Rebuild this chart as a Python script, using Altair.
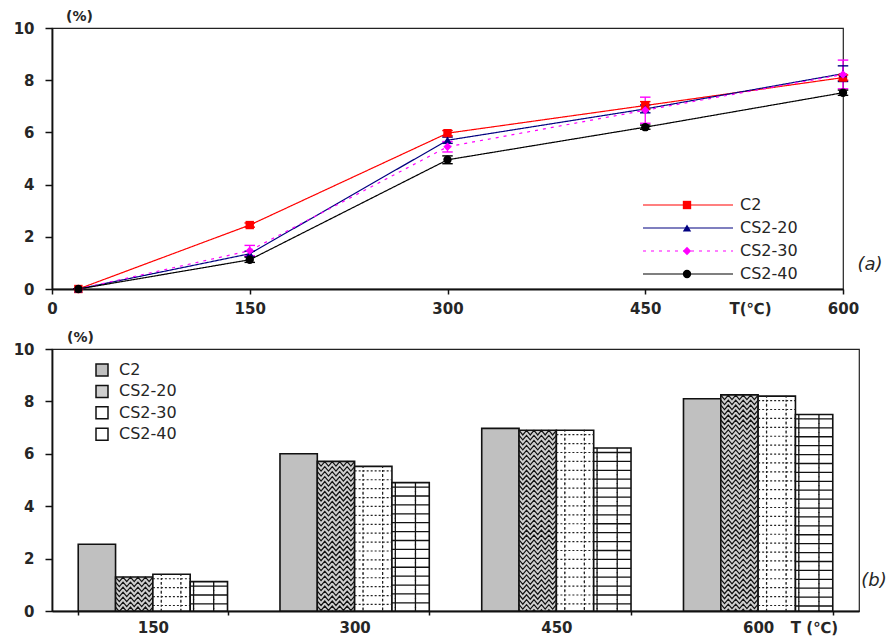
import altair as alt
import pandas as pd

FONT = "DejaVu Sans"
TXT = "#262626"

# ---------------- data ----------------
series = ["C2", "CS2-20", "CS2-30", "CS2-40"]
colors = ["#ff0000", "#000080", "#ff00ff", "#000000"]
shapes = ["square", "triangle-up", "diamond", "circle"]

temps = [20, 150, 300, 450, 600]
c2 = [0.0, 2.45, 5.97, 7.03, 8.10]
cs20 = [0.0, 1.35, 5.70, 6.90, 8.25]
cs30 = [0.0, 1.47, 5.45, 6.85, 8.22]
cs40 = [0.0, 1.12, 4.95, 6.20, 7.52]
c2_err = [0.0, 0.08, 0.10, 0.15, 0.10]
cs20_err = [0.0, 0.10, 0.12, 0.15, 0.30]
cs30_err = [0.0, 0.20, 0.20, 0.50, 0.55]
cs40_err = [0.0, 0.10, 0.15, 0.08, 0.10]

bar_temps = ["150", "300", "450", "600"]
bar_c2 = [2.55, 6.00, 6.97, 8.10]
bar_cs20 = [1.30, 5.71, 6.90, 8.25]
bar_cs30 = [1.40, 5.52, 6.90, 8.20]
bar_cs40 = [1.12, 4.90, 6.22, 7.50]

# ---------------- tables ----------------
rows = []
for s, vals, errs in zip(series, [c2, cs20, cs30, cs40], [c2_err, cs20_err, cs30_err, cs40_err]):
    for t, v, e in zip(temps, vals, errs):
        rows.append({"T": t, "series": s, "series_p": s, "value": v, "lo": v - e, "hi": v + e})
df_top = pd.DataFrame(rows)

brows = []
for s, vals in zip(series, [bar_c2, bar_cs20, bar_cs30, bar_cs40]):
    for t, v in zip(bar_temps, vals):
        brows.append({"T": t, "series_b": s, "value": v})
df_bar = pd.DataFrame(brows)


def pattern_rows(values, label, step):
    out = []
    for t, v in zip(bar_temps, values):
        y = v - step / 2
        while y > -step / 2:
            out.append({"T": t, "series_b": label, "value": y})
            y -= step
    return pd.DataFrame(out)


zig_df = pattern_rows(bar_cs20, "CS2-20", 0.19)
dot_df = pattern_rows(bar_cs30, "CS2-30", 0.34)
grid_df = pattern_rows(bar_cs40, "CS2-40", 0.34)

# ---------------- top chart ----------------
TW, TH = 791, 261

x_axis_top = alt.Axis(values=[0, 150, 300, 450, 600], title="T(℃)", tickSize=5,
                      labelPadding=7, labelFlush=False, titleX=698, titleY=12,
                      titleAlign="center", titleBaseline="top", titleFont=FONT,
                      titleFontSize=15, titleFontWeight="bold", titleColor=TXT)
x_top = alt.X("T:Q", scale=alt.Scale(domain=[0, 600], nice=False), axis=x_axis_top)
y_axis_top = alt.Axis(values=[0, 2, 4, 6, 8, 10], title="(%)", titleAngle=0, titleX=27,
                      titleY=-12, titleAlign="center", titleBaseline="middle",
                      titleFont=FONT, titleFontSize=14, titleFontWeight="bold",
                      titleColor=TXT, tickSize=7, labelPadding=11, labelFlush=False)
yscale = alt.Scale(domain=[0, 10], nice=False)

leg_lines = alt.Legend(title=None, orient="none", legendX=590, legendY=169,
                       symbolType="stroke", symbolSize=8100, labelFont=FONT,
                       labelFontSize=16, labelColor=TXT, clipHeight=16, rowPadding=7,
                       padding=0, labelOffset=6)
leg_pts = alt.Legend(title=None, orient="none", legendX=630, legendY=169,
                     symbolSize=70, symbolStrokeWidth=0, labelExpr="''",
                     clipHeight=16, rowPadding=7, padding=0)

lines = alt.Chart(df_top).mark_line().encode(
    x=x_top,
    y=alt.Y("value:Q", scale=yscale, axis=y_axis_top),
    stroke=alt.Stroke("series:N", scale=alt.Scale(domain=series, range=colors), legend=leg_lines),
    strokeDash=alt.StrokeDash("series:N", scale=alt.Scale(domain=series, range=[[1, 0], [1, 0], [3, 5], [1, 0]]), legend=leg_lines),
    strokeWidth=alt.StrokeWidth("series:N", scale=alt.Scale(domain=series, range=[1.2, 1.2, 2.5, 1.2]), legend=leg_lines),
)

err_rules = alt.Chart(df_top).mark_rule(strokeWidth=1.3).encode(
    x=x_top,
    y=alt.Y("lo:Q", scale=yscale, axis=y_axis_top),
    y2="hi:Q",
    stroke=alt.Stroke("series:N", legend=None),
)

caps = alt.Chart(df_top).transform_fold(["lo", "hi"], as_=["k", "v"]).mark_point(
    shape="M-1,0L1,0", size=110, filled=False, opacity=1, strokeWidth=1.4
).encode(
    x=x_top,
    y=alt.Y("v:Q", scale=yscale, axis=y_axis_top),
    stroke=alt.Stroke("series:N", legend=None),
)

pts = alt.Chart(df_top).mark_point(filled=True, size=70, opacity=1).encode(
    x=x_top,
    y=alt.Y("value:Q", scale=yscale, axis=y_axis_top),
    fill=alt.Fill("series_p:N", scale=alt.Scale(range=colors), legend=leg_pts),
    shape=alt.Shape("series_p:N", scale=alt.Scale(range=shapes), legend=leg_pts),
)

lab_a = alt.Chart(pd.DataFrame({"t": ["(a)"]})).mark_text(
    font=FONT, fontSize=18, fontStyle="italic", color=TXT, align="center", baseline="middle"
).encode(text="t:N", x=alt.value(818), y=alt.value(237))

top = alt.layer(lines, err_rules, caps, pts, lab_a).properties(width=TW, height=TH)

# ---------------- bottom chart ----------------
BW, BH = 807, 262

x_axis_bot = alt.Axis(title="T (℃)", labelAngle=0, tickBand="extent", tickSize=4,
                      labelPadding=5, titleX=762, titleY=9, titleAlign="center",
                      titleBaseline="top", titleFont=FONT, titleFontSize=15,
                      titleFontWeight="bold", titleColor=TXT)
x_bot = alt.X("T:N", sort=bar_temps, scale=alt.Scale(paddingInner=0.26, paddingOuter=0.13),
              axis=x_axis_bot)
xoff = alt.XOffset("series_b:N", sort=series, scale=alt.Scale(paddingInner=0, paddingOuter=0))
y_axis_bot = alt.Axis(values=[0, 2, 4, 6, 8, 10], title="(%)", titleAngle=0, titleX=28,
                      titleY=-12, titleAlign="center", titleBaseline="middle",
                      titleFont=FONT, titleFontSize=14, titleFontWeight="bold",
                      titleColor=TXT, tickSize=7, labelPadding=11, labelFlush=False)
y_bot = alt.Y("value:Q", scale=yscale, axis=y_axis_bot)

leg_bar = alt.Legend(title=None, orient="none", legendX=42, legendY=13, symbolType="square",
                     symbolSize=144, symbolStrokeColor="#111", symbolStrokeWidth=1.5,
                     labelFont=FONT, labelFontSize=16, labelColor=TXT, clipHeight=16,
                     rowPadding=5.4, labelOffset=9, padding=0)

bars = alt.Chart(df_bar).mark_bar(stroke="#111", strokeWidth=1.6).encode(
    x=x_bot,
    xOffset=xoff,
    y=y_bot,
    fill=alt.Fill("series_b:N", scale=alt.Scale(domain=series, range=["#c0c0c0", "#cfcfcf", "#ffffff", "#ffffff"]), legend=leg_bar),
)

n = 10
zz = []
for i in range(n + 1):
    zz.append(f"{-1 + 2 * i / n:.3f},{(-0.12 if i % 2 == 0 else 0.12)}")
zig_path = "M" + "L".join(zz)
grid_path = "M-1,0L1,0M-0.82,-0.26L-0.82,0.26M0.26,-0.26L0.26,0.26"
dot_path = "M-1,0L1,0M-0.55,-0.26L-0.55,0.26M0.5,-0.26L0.5,0.26"

BAR_SIZE = 1390


def pattern_layer(df, path, dash, width, color):
    kw = dict(shape=path, size=BAR_SIZE, filled=False, opacity=1, strokeWidth=width,
              stroke=color, clip=True)
    if dash:
        kw["strokeDash"] = dash
    return alt.Chart(df).mark_point(**kw).encode(
        x=x_bot,
        xOffset=xoff,
        y=y_bot,
    )


zig = pattern_layer(zig_df, zig_path, None, 1.2, "#111")
dots = pattern_layer(dot_df, dot_path, [2, 2], 1.2, "#222")
grid = pattern_layer(grid_df, grid_path, None, 1.3, "#111")

lab_b = alt.Chart(pd.DataFrame({"t": ["(b)"]})).mark_text(
    font=FONT, fontSize=18, fontStyle="italic", color=TXT, align="center", baseline="middle"
).encode(text="t:N", x=alt.value(822), y=alt.value(232))

bottom = alt.layer(bars, zig, dots, grid, lab_b).properties(width=BW, height=BH)

chart = alt.vconcat(top, bottom, spacing=12).resolve_scale(
    fill="independent", stroke="independent", shape="independent",
    strokeDash="independent", strokeWidth="independent", x="independent", y="independent",
).resolve_legend(
    fill="independent", stroke="independent", shape="independent",
    strokeDash="independent", strokeWidth="independent",
).properties(
    padding={"left": 4, "top": 0, "right": 0, "bottom": 0}
).configure_view(
    stroke="#222", strokeWidth=1.2
).configure_axis(
    grid=False, domainColor="#111", domainWidth=1.8, tickColor="#111", tickWidth=1.5,
    labelFont=FONT, labelFontSize=15, labelFontWeight="bold", labelColor=TXT,
)

chart.save("out.html", embed_options={"renderer": "svg", "actions": False})
